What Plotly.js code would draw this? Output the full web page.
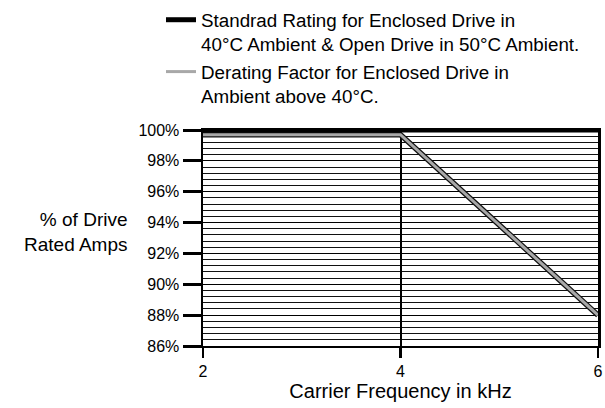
<!DOCTYPE html>
<html>
<head>
<meta charset="utf-8">
<script src="https://cdn.plot.ly/plotly-3.0.1.min.js"></script>
<style>html,body{margin:0;padding:0;background:#fff;}#chart{width:605px;height:408px;}</style>
</head>
<body>
<div id="chart"></div>
<script>
// Data
var freqKHz = [2, 4, 6];
var standardRating = [100, 100, 100];
var derateFreq = [2, 4, 6];
var derateValues = [99.7, 99.7, 88];
var yTickVals = [86, 88, 90, 92, 94, 96, 98, 100];
var yTickText = ["86%", "88%", "90%", "92%", "94%", "96%", "98%", "100%"];
var xTickVals = [2, 4, 6];
var xTickText = ["2", "4", "6"];
var standardName = "Standrad Rating for Enclosed Drive in<br>40°C Ambient &amp; Open Drive in 50°C Ambient.";
var derateName = "Derating Factor for Enclosed Drive in<br>Ambient above 40°C.";

var FONT = "Liberation Sans, Arial, Helvetica, sans-serif";

var traces = [
  {x: derateFreq, y: derateValues, mode: "lines", line: {color: "#111", width: 5.5},
   showlegend: false, hoverinfo: "skip", legendgroup: "b"},
  {x: derateFreq, y: derateValues, mode: "lines", name: derateName,
   line: {color: "#a8a8a8", width: 3}, legendgroup: "b", legendrank: 2},
  {x: freqKHz, y: standardRating, mode: "lines", name: standardName,
   line: {color: "#000", width: 5}, legendgroup: "a", legendrank: 1}
];

var layout = {
  width: 605, height: 408,
  margin: {l: 203, r: 7, t: 130, b: 62, autoexpand: false},
  paper_bgcolor: "#fff", plot_bgcolor: "#fff",
  font: {family: FONT, color: "#000", size: 16},
  showlegend: true,
  legend: {
    x: -42/395, xref: "paper", xanchor: "left",
    y: 1 + 129/216, yref: "paper", yanchor: "top",
    valign: "top", tracegroupgap: 19, traceorder: "normal",
    font: {family: FONT, size: 18.8, color: "#000"},
    bgcolor: "rgba(0,0,0,0)", itemwidth: 30
  },
  xaxis: {
    range: [2, 6], tickvals: xTickVals, ticktext: xTickText,
    showgrid: true, gridcolor: "#000", gridwidth: 2,
    showline: true, linecolor: "#000", linewidth: 2, mirror: true,
    ticks: "outside", ticklen: 10, tickwidth: 2.5, tickcolor: "#000",
    tickfont: {family: FONT, size: 16},
    zeroline: false,
    title: {text: "Carrier Frequency in kHz", font: {family: FONT, size: 20}, standoff: 2}
  },
  yaxis: {
    range: [86, 100], tickvals: yTickVals, ticktext: yTickText,
    showgrid: true, gridcolor: "#000", gridwidth: 1,
    minor: {tick0: 86, dtick: 0.4, showgrid: true, gridcolor: "#111", gridwidth: 1, ticks: ""},
    showline: true, linecolor: "#000", linewidth: 2.5, mirror: true,
    ticks: "outside", ticklen: 18, tickwidth: 3, tickcolor: "#000",
    tickfont: {family: FONT, size: 16},
    zeroline: false
  },
  annotations: [{
    text: "% of Drive<br>Rated Amps", xref: "paper", yref: "paper",
    x: (130-203)/395, y: (346-232)/216, xanchor: "right", yanchor: "middle",
    align: "right", showarrow: false, font: {family: FONT, size: 19, color: "#000"}
  }]
};

Plotly.newPlot("chart", traces, layout, {staticPlot: true, displayModeBar: false});
</script>
</body>
</html>
